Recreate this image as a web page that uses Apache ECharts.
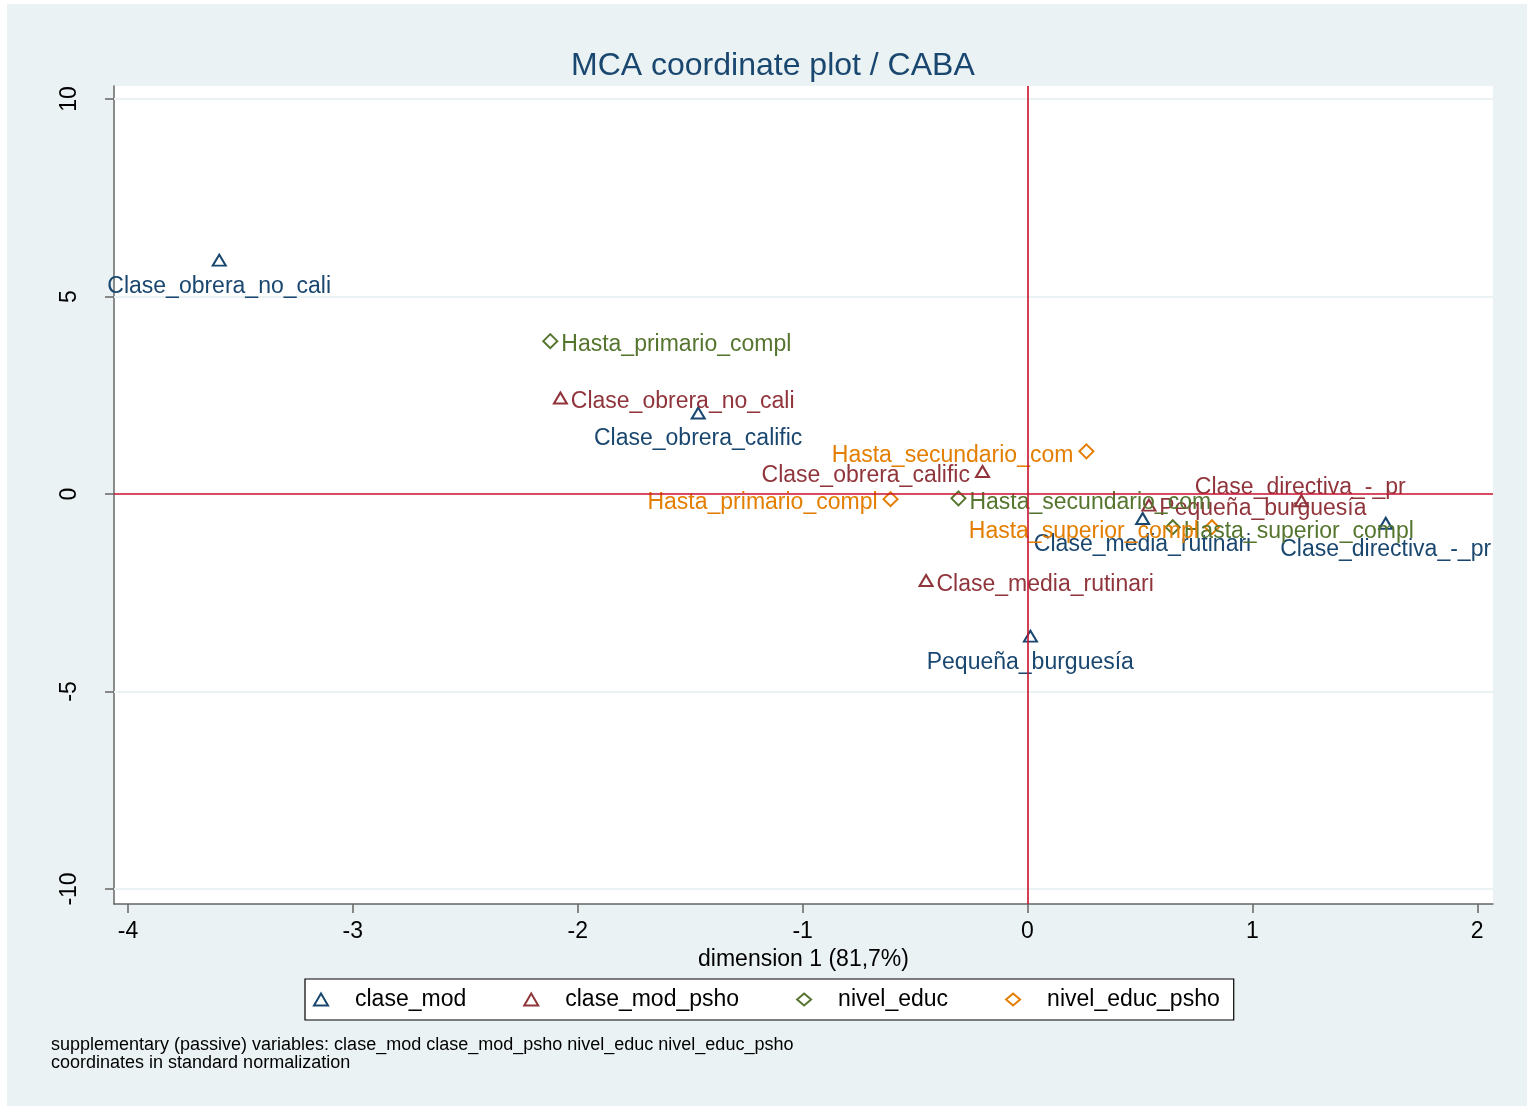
<!DOCTYPE html>
<html lang="en">
<head>
<meta charset="utf-8">
<title>MCA coordinate plot / CABA</title>
<script src="https://cdn.jsdelivr.net/npm/echarts@6/dist/echarts.min.js"></script>
<style>
  body{margin:0;background:#fff;}
  #main{position:absolute;left:7px;top:4px;width:1520px;height:1102px;}
</style>
</head>
<body>
<div id="main"></div>
<script type="text/javascript">
// category names
var catClase = ['Clase_obrera_no_cali','Clase_obrera_calific','Clase_media_rutinari','Pequeña_burguesía','Clase_directiva_-_pr'];
var catEduc = ['Hasta_primario_compl','Hasta_secundario_com','Hasta_superior_compl'];
// coordinates: dimension 1 (x), dimension 2 (y)
var claseModX = [-3.594, -1.464, 0.512, 0.013, 1.593];
var claseModY = [5.92, 2.05, -0.62, -3.60, -0.74];
var claseModPshoX = [-2.077, -0.200, -0.451, 0.540, 1.218];
var claseModPshoY = [2.43, 0.57, -2.19, -0.28, -0.17];
var nivelEducX = [-2.122, -0.307, 0.646];
var nivelEducY = [3.87, -0.11, -0.84];
var nivelEducPshoX = [-0.609, 0.262, 0.820];
var nivelEducPshoY = [-0.13, 1.08, -0.84];
// axis ticks
var xTicks = [-4, -3, -2, -1, 0, 1, 2];
var yTicks = [-10, -5, 0, 5, 10];
var yGrid = [-10, -5, 5, 10];
// label placement (like stata mlabvposition)
var posClase = ['bottom','bottom','bottom','bottom','bottom'];
var posClasePsho = ['right','left','right','right','top'];
var posEduc = ['right','right','right'];
var posEducPsho = ['left','left','left'];

var font = 'Liberation Sans, Arial, sans-serif';
var cNavy = '#1a476f', cMaroon = '#90353b', cGreen = '#55752f', cOrange = '#e37e00';

// label box placed relative to the marker's bounding box
function labelAt(p, sw, sh){
  if (p == 'bottom') return {position: [sw / 2 + 1, sh / 2 + 27], align: 'center', verticalAlign: 'middle'};
  if (p == 'top') return {position: [sw / 2, sh / 2 - 12], align: 'center', verticalAlign: 'middle'};
  if (p == 'left') return {position: [-5, sh / 2 + 5], align: 'right', verticalAlign: 'middle'};
  return {position: [sw + 5, sh / 2 + 5], align: 'left', verticalAlign: 'middle'};
}

function pts(xs, ys, names, pos, size){
  var out = [];
  for (var i = 0; i < xs.length; i++){
    out.push({value: [xs[i], ys[i]], name: names[i], label: labelAt(pos[i], size[0], size[1])});
  }
  return out;
}

function serie(name, sym, size, col, xs, ys, names, pos){
  return {
    name: name,
    type: 'scatter',
    symbol: sym,
    symbolSize: size,
    z: 3,
    itemStyle: {color: col, borderWidth: 1.6, opacity: 1},
    label: {show: true, formatter: '{b}', color: col, fontSize: 23, fontFamily: font},
    labelLayout: {hideOverlap: false},
    data: pts(xs, ys, names, pos, size)
  };
}

var gridLines = [];
for (var k = 0; k < yGrid.length; k++){
  gridLines.push({yAxis: yGrid[k]});
}
var zeroLines = [{yAxis: 0}, {xAxis: 0}];

var triSize = [13, 11], diaSize = [14, 14];

var myChart = echarts.init(document.getElementById('main'));
var option = {
  backgroundColor: '#eaf2f3',
  animation: false,
  title: {
    text: 'MCA coordinate plot / CABA',
    left: 559, top: 41,
    textStyle: {color: cNavy, fontSize: 32, fontWeight: 'normal', fontFamily: font}
  },
  grid: {
    left: 107, top: 82, width: 1379, height: 818,
    show: true, backgroundColor: '#fff', borderWidth: 0
  },
  legend: {
    data: ['clase_mod','clase_mod_psho','nivel_educ','nivel_educ_psho'],
    left: 298, top: 975,
    padding: [9, 14, 9, 8],
    itemGap: 57, itemWidth: 14, itemHeight: 12,
    backgroundColor: '#fff', borderColor: '#000', borderWidth: 1.2, borderRadius: 0,
    textStyle: {color: '#000', fontSize: 23, fontFamily: font, padding: [0, 0, 0, 22]}
  },
  xAxis: {
    type: 'value', min: -4.062, max: 2.07,
    name: 'dimension 1 (81,7%)', nameLocation: 'middle', nameGap: 37,
    nameTextStyle: {color: '#000', fontSize: 23, fontFamily: font},
    axisLine: {show: true, onZero: false, lineStyle: {color: '#666', width: 1.5}},
    axisTick: {show: true, customValues: xTicks, length: 9, lineStyle: {color: '#666', width: 1.5}},
    axisLabel: {customValues: xTicks, color: '#000', fontSize: 23, fontFamily: font, margin: 16},
    splitLine: {show: false}
  },
  yAxis: {
    type: 'value', min: -10.38, max: 10.33,
    axisLine: {show: true, onZero: false, lineStyle: {color: '#666', width: 1.5}},
    axisTick: {show: true, customValues: yTicks, length: 9, lineStyle: {color: '#666', width: 1.5}},
    axisLabel: {customValues: yTicks, rotate: 90, color: '#000', fontSize: 23, fontFamily: font, margin: 33},
    splitLine: {show: false}
  },
  graphic: [{
    type: 'text', left: 44, top: 1032, silent: true,
    style: {
      text: 'supplementary (passive) variables: clase_mod clase_mod_psho nivel_educ nivel_educ_psho\ncoordinates in standard normalization',
      fill: '#000', fontSize: 18, lineHeight: 18, fontFamily: font
    }
  }],
  series: [
    {
      name: 'grid', type: 'scatter', data: [], z: 1,
      markLine: {silent: true, z: 1, symbol: 'none', label: {show: false}, animation: false,
        lineStyle: {color: '#eaf2f3', width: 2, type: 'solid'}, data: gridLines}
    },
    {
      name: 'zero', type: 'scatter', data: [], z: 1,
      markLine: {silent: true, z: 5, symbol: 'none', label: {show: false}, animation: false,
        lineStyle: {color: '#c8102e', width: 1.6, type: 'solid'}, data: zeroLines}
    },
    serie('clase_mod', 'emptyTriangle', triSize, cNavy, claseModX, claseModY, catClase, posClase),
    serie('clase_mod_psho', 'emptyTriangle', triSize, cMaroon, claseModPshoX, claseModPshoY, catClase, posClasePsho),
    serie('nivel_educ', 'emptyDiamond', diaSize, cGreen, nivelEducX, nivelEducY, catEduc, posEduc),
    serie('nivel_educ_psho', 'emptyDiamond', diaSize, cOrange, nivelEducPshoX, nivelEducPshoY, catEduc, posEducPsho)
  ]
};
myChart.setOption(option);
</script>
</body>
</html>
